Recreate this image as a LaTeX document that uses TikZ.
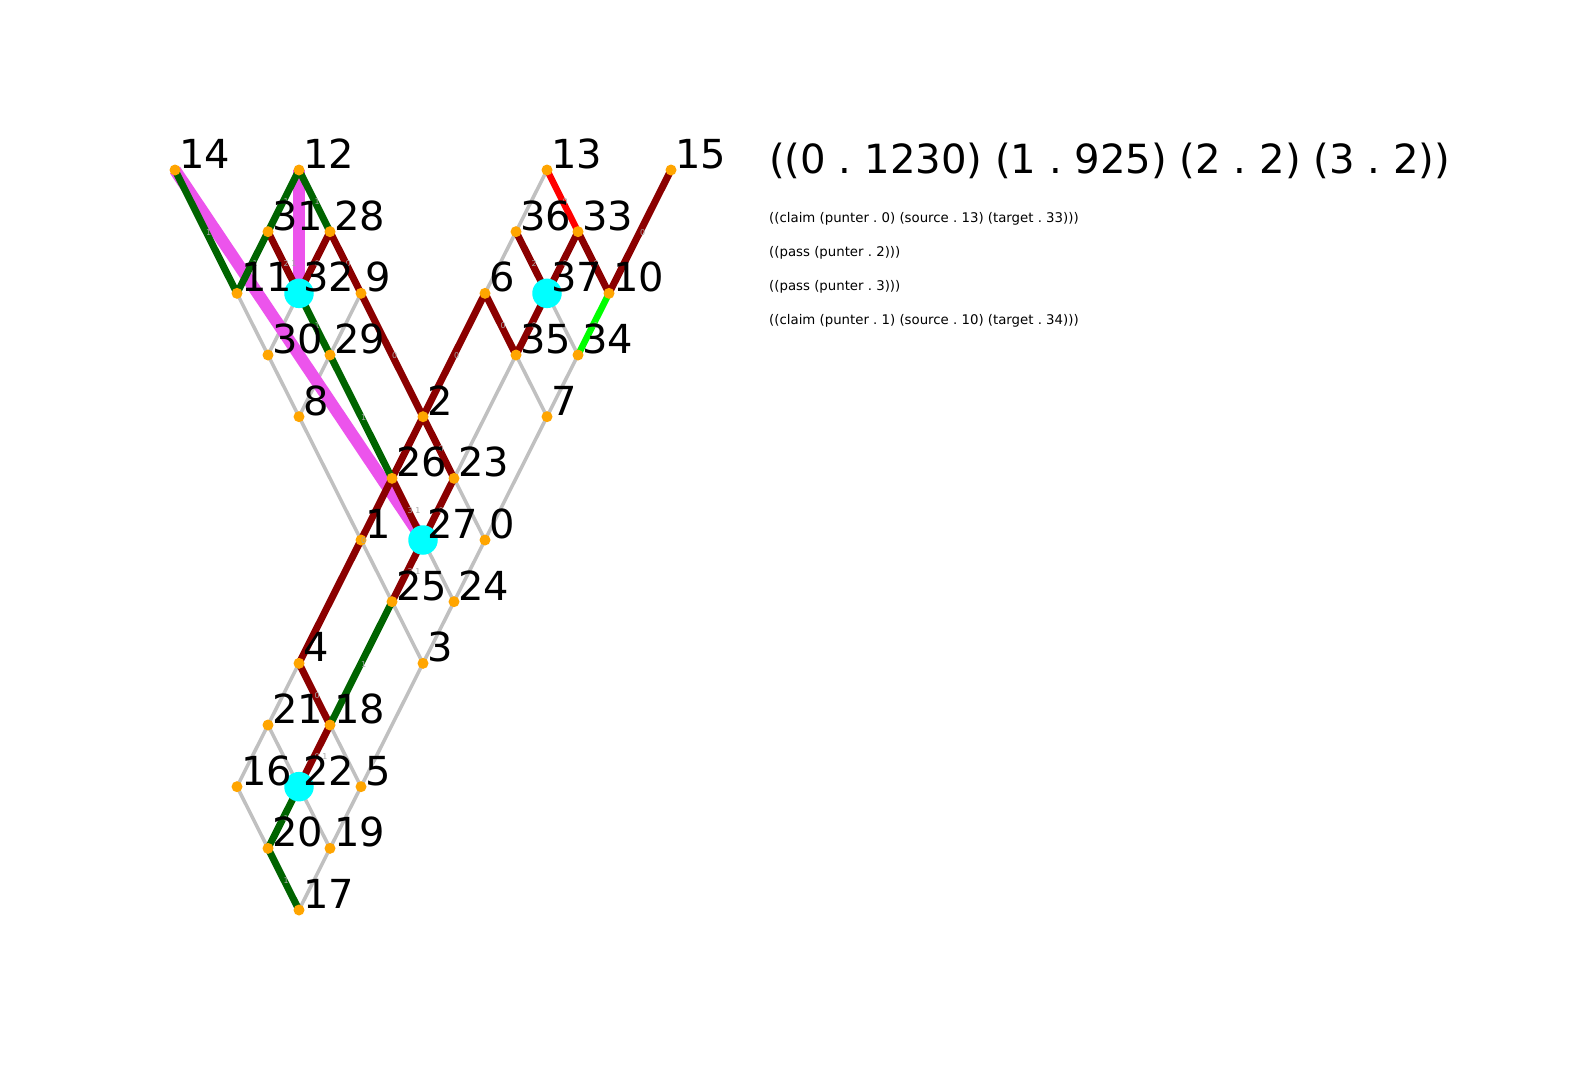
\documentclass[tikz,border=0pt]{standalone}
\usepackage{fontspec}
\setmainfont{DejaVu Sans}
\usetikzlibrary{calc}
\pgfdeclarelayer{backlayer}
\pgfdeclarelayer{edgelayer}
\pgfsetlayers{backlayer,edgelayer,main}
\definecolor{edgegray}{RGB}{192,192,192}
\definecolor{pdarkred}{RGB}{139,0,0}
\definecolor{pdarkgreen}{RGB}{0,100,0}
\definecolor{pmagenta}{RGB}{236,84,236}
\definecolor{pred}{RGB}{255,0,0}
\definecolor{plime}{RGB}{0,255,0}
\definecolor{dotorange}{RGB}{255,165,0}
\definecolor{minecyan}{RGB}{0,255,255}
\definecolor{labgray}{RGB}{165,165,165}
\begin{document}
\begin{tikzpicture}[x=1pt,y=-1pt,
  dot/.style={circle,fill=dotorange,draw=none,minimum size=11pt,inner sep=0pt},
  mine/.style={circle,fill=minecyan,draw=none,minimum size=29.5pt,inner sep=0pt},
  gedge/.style={draw=edgegray,line width=3.5pt},
  redge/.style={draw=pdarkred,line width=7pt},
  gredge/.style={draw=pdarkgreen,line width=7pt},
  medge/.style={draw=pmagenta,line width=12pt},
  newedge/.style={line width=6.5pt},
  elab/.style={anchor=west,inner sep=0pt,text=labgray,font=\fontsize{8}{9}\selectfont\frenchspacing,yshift=-1pt},
  lbl/.style={anchor=base west,inner sep=0pt,font=\fontsize{40}{48}\selectfont},
  info/.style={anchor=base west,inner sep=0pt,font=\fontsize{13.3}{16}\selectfont\frenchspacing}]
\begin{pgfonlayer}{backlayer}
\fill[white] (0,0) rectangle (1594,1080);
\end{pgfonlayer}
\useasboundingbox (0,0) rectangle (1594,1080);

% sites
\foreach \n/\k/\r in {14/0/0,12/4/0,13/12/0,15/16/0,
  31/3/1,28/5/1,36/11/1,33/13/1,
  11/2/2,32/4/2,9/6/2,6/10/2,37/12/2,10/14/2,
  30/3/3,29/5/3,35/11/3,34/13/3,
  8/4/4,2/8/4,7/12/4,
  26/7/5,23/9/5,
  1/6/6,27/8/6,0/10/6,
  25/7/7,24/9/7,
  4/4/8,3/8/8,
  21/3/9,18/5/9,
  16/2/10,22/4/10,5/6/10,
  20/3/11,19/5/11,
  17/4/12}
  \node[dot] (n\n) at ({175+31*\k},{170+61.667*\r}) {};

% mines
\foreach \m in {32,37,27,22}
  \node[mine] (m\m) at (n\m.center) {};

% rivers
\begin{pgfonlayer}{edgelayer}
\foreach \a/\b in {11/30,32/30,30/8,9/29,29/8,8/3,13/36,36/6,37/34,35/23,35/7,34/7,
  7/0,23/0,0/24,27/24,24/3,3/5,4/21,21/16,21/22,16/20,22/19,18/5,5/19,19/17}
  \draw[gedge] (n\a.center) -- (n\b.center);
\foreach \a/\b in {14/27,12/32}
  \draw[medge] (n\a.center) -- (n\b.center);
\foreach \a/\b in {31/32,28/32,28/9,9/2,15/10,36/37,33/37,33/10,6/35,37/35,6/2,
  2/4,2/23,26/27,23/27,27/25,4/18,18/22}
  \draw[redge] (n\a.center) -- (n\b.center);
\foreach \a/\b in {14/11,12/31,12/28,31/11,32/29,29/26,25/18,22/20,20/17}
  \draw[gredge] (n\a.center) -- (n\b.center);
\draw[newedge,draw=pred] (n13.center) -- (n33.center);
\draw[newedge,draw=plime] (n10.center) -- (n34.center);
\end{pgfonlayer}

% river labels
\foreach \a/\b/\t in {12/31/1,12/28/1,14/11/1,31/11/1,31/32/{2 1},28/32/0,28/9/0,
  32/29/1,9/2/0,29/26/1,13/33/0,15/10/0,36/37/2,33/37/0,33/10/0,6/35/0,37/35/0,
  10/34/1,6/2/0,2/23/0,26/27/{3 1},23/27/0,27/25/{3 1},2/4/0,25/18/1,4/18/0,
  18/22/{0 1},22/20/1,20/17/1}
  \path (n\a.center) -- (n\b.center) node[elab,pos=0.5] (e\a-\b) {\t};

% site labels
\foreach \n in {0,...,37}
  \path (n\n.center) ++(4,-1.5) node[lbl] (l\n) {\n};

% scores and moves
\node[lbl,font=\fontsize{40.2}{48}\selectfont\frenchspacing] (score) at (769,173)
  {((0 . 1230) (1 . 925) (2 . 2) (3 . 2))};
\node[info] (mv1) at (769,222.5) {((claim (punter . 0) (source . 13) (target . 33)))};
\node[info] (mv2) at (769,256.3) {((pass (punter . 2)))};
\node[info] (mv3) at (769,290.1) {((pass (punter . 3)))};
\node[info] (mv4) at (769,324) {((claim (punter . 1) (source . 10) (target . 34)))};
\end{tikzpicture}
\end{document}
